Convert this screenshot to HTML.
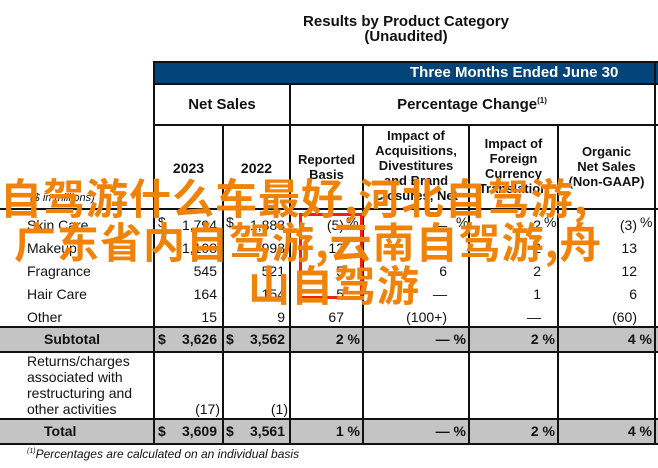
<!DOCTYPE html>
<html><head><meta charset="utf-8"><style>
*{margin:0;padding:0;box-sizing:border-box}
body{width:658px;height:468px;background:#fff;position:relative;overflow:hidden;font-family:"Liberation Sans","DejaVu Sans",sans-serif;color:#111}
.a{position:absolute;white-space:nowrap}
.b{font-weight:bold}
.vl{position:absolute;width:2px;background:#111}
.hl{position:absolute;height:2px;background:#111}
.r{text-align:right}
.c{text-align:center}
.t{font-size:14px}
.o{position:absolute;white-space:nowrap;color:#f08208;font-family:"Noto Sans CJK SC",sans-serif;font-weight:bold;font-size:42px;line-height:44px}
</style></head><body>
<div class="a b c" style="left:154px;width:504px;top:14px;font-size:15px;line-height:15px">Results by Product Category<br>(Unaudited)</div>
<div class="a" style="left:154px;top:62px;width:504px;height:22px;background:#03457a"></div>
<div class="a b" style="left:410px;top:64px;font-size:15px;color:#fff">Three Months Ended June 30</div>
<div class="a" style="left:154px;top:327px;width:504px;height:25px;background:#c4c4c4"></div>
<div class="a" style="left:154px;top:419px;width:504px;height:25px;background:#c4c4c4"></div>
<div class="a" style="left:0;top:327px;width:154px;height:25px;background:#c4c4c4"></div>
<div class="a" style="left:0;top:419px;width:154px;height:25px;background:#c4c4c4"></div>
<div class="hl" style="left:154px;top:61px;width:504px"></div>
<div class="hl" style="left:154px;top:83px;width:504px"></div>
<div class="hl" style="left:154px;top:124px;width:504px"></div>
<div class="hl" style="left:0;top:208px;width:658px"></div>
<div class="hl" style="left:0;top:326px;width:658px"></div>
<div class="hl" style="left:0;top:351px;width:658px"></div>
<div class="hl" style="left:0;top:418px;width:658px"></div>
<div class="hl" style="left:0;top:443px;width:658px"></div>
<div class="vl" style="left:153px;top:61px;height:384px"></div>
<div class="vl" style="left:222px;top:124px;height:321px"></div>
<div class="vl" style="left:289px;top:83px;height:362px"></div>
<div class="vl" style="left:362px;top:124px;height:321px"></div>
<div class="vl" style="left:468px;top:124px;height:321px"></div>
<div class="vl" style="left:557px;top:124px;height:321px"></div>
<div class="vl" style="left:654px;top:61px;height:384px"></div>
<div class="a b c" style="left:154px;width:136px;top:96px;font-size:15px">Net Sales</div>
<div class="a b c" style="left:290px;width:364px;top:96px;font-size:15px">Percentage Change<sup style="font-size:8px">(1)</sup></div>
<div class="a b c" style="left:154px;width:69px;top:160px;font-size:14px">2023</div>
<div class="a b c" style="left:223px;width:67px;top:160px;font-size:14px">2022</div>
<div class="a b c" style="left:290px;width:73px;top:152px;font-size:13px;line-height:15px">Reported<br>Basis</div>
<div class="a b c" style="left:363px;width:106px;top:128px;font-size:13px;line-height:15px">Impact of<br>Acquisitions,<br>Divestitures<br>and Brand<br>Closures, Net</div>
<div class="a b c" style="left:469px;width:89px;top:136px;font-size:13px;line-height:15px">Impact of<br>Foreign<br>Currency<br>Translation</div>
<div class="a b c" style="left:558px;width:97px;top:144px;font-size:13px;line-height:15px">Organic<br>Net Sales<br>(Non-GAAP)</div>
<div class="a" style="left:30px;top:192px;font-size:11px;font-style:italic">($ in millions)</div>
<div class="a t" style="left:27px;top:214px;line-height:23px">Skin Care<br>Makeup<br>Fragrance<br>Hair Care<br>Other</div>
<div class="a t" style="left:158px;top:214px">$</div>
<div class="a t" style="left:226px;top:214px">$</div>
<div class="a t r" style="left:160px;width:57px;top:214px;line-height:23px">1,794<br>1,108<br>545<br>164<br>15</div>
<div class="a t r" style="left:228px;width:57px;top:214px;line-height:23px">1,883<br>993<br>521<br>154<br>9</div>
<div class="a t r" style="left:292px;width:52px;top:214px;line-height:23px">(5)<br>12<br>5<br>5<br>67</div>
<div class="a t" style="left:346px;top:214px">%</div>
<div class="a t r" style="left:365px;width:82px;top:214px;line-height:23px">—<br>—<br>6<br>—<br>(100+)</div>
<div class="a t" style="left:456px;top:214px">%</div>
<div class="a t r" style="left:471px;width:70px;top:214px;line-height:23px">2<br>2<br>2<br>1<br>—</div>
<div class="a t" style="left:544px;top:214px">%</div>
<div class="a t r" style="left:560px;width:77px;top:214px;line-height:23px">(3)<br>13<br>12<br>6<br>(60)</div>
<div class="a t" style="left:640px;top:214px">%</div>
<div class="a b t" style="left:44px;top:331px">Subtotal</div>
<div class="a b t" style="left:158px;top:331px">$</div><div class="a b t r" style="left:160px;width:57px;top:331px">3,626</div>
<div class="a b t" style="left:226px;top:331px">$</div><div class="a b t r" style="left:228px;width:57px;top:331px">3,562</div>
<div class="a b t r" style="left:290px;width:70px;top:331px">2 %</div>
<div class="a b t r" style="left:363px;width:103px;top:331px">— %</div>
<div class="a b t r" style="left:469px;width:86px;top:331px">2 %</div>
<div class="a b t r" style="left:558px;width:94px;top:331px">4 %</div>
<div class="a t" style="left:27px;top:353px;line-height:16px">Returns/charges<br>associated with<br>restructuring and<br>other activities</div>
<div class="a t r" style="left:160px;width:60px;top:401px">(17)</div>
<div class="a t r" style="left:228px;width:60px;top:401px">(1)</div>
<div class="a b t" style="left:44px;top:423px">Total</div>
<div class="a b t" style="left:158px;top:423px">$</div><div class="a b t r" style="left:160px;width:57px;top:423px">3,609</div>
<div class="a b t" style="left:226px;top:423px">$</div><div class="a b t r" style="left:228px;width:57px;top:423px">3,561</div>
<div class="a b t r" style="left:290px;width:70px;top:423px">1 %</div>
<div class="a b t r" style="left:363px;width:103px;top:423px">— %</div>
<div class="a b t r" style="left:469px;width:86px;top:423px">2 %</div>
<div class="a b t r" style="left:558px;width:94px;top:423px">4 %</div>
<div class="a" style="left:27px;top:447px;font-size:12px;font-style:italic"><sup style="font-size:7px">(1)</sup>Percentages are calculated on an individual basis</div>
<div class="a" style="left:299px;top:213px;width:64px;height:86px;border:3px solid #f02010"></div>
<div class="o" style="left:0;top:175px;letter-spacing:1px">自驾游什么车最好,河北自驾游,</div>
<div class="o" style="left:14px;top:219px;letter-spacing:1px">广东省内自驾游,云南自驾游,舟</div>
<div class="o" style="left:248px;top:262px;letter-spacing:1px">山自驾游</div>
</body></html>
